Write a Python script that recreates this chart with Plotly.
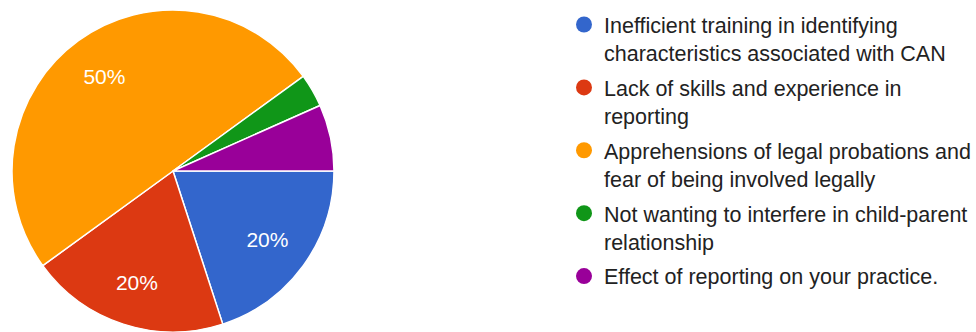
import plotly.graph_objects as go

categories = [
    "Inefficient training in identifying<br>characteristics associated with CAN",
    "Lack of skills and experience in<br>reporting",
    "Apprehensions of legal probations and<br>fear of being involved legally",
    "Not wanting to interfere in child-parent<br>relationship",
    "Effect of reporting on your practice.",
]
counts = [6, 6, 15, 1, 2]
slice_labels = ["20%", "20%", "50%", "", ""]
colors = ["#3366cc", "#dc3912", "#ff9900", "#109618", "#990099"]

W, H = 976, 332
dom = dict(x=[12 / W, 334 / W], y=[0, 322 / H])
fig = go.Figure()
# filled pie
fig.add_trace(go.Pie(
    values=counts,
    labels=categories,
    textinfo="none",
    marker=dict(colors=colors, line=dict(color="white", width=1.5)),
    sort=False,
    direction="clockwise",
    rotation=90,
    showlegend=False,
    hoverinfo="label+percent",
    domain=dom,
))
# transparent overlay ring carrying the percentage labels further out
fig.add_trace(go.Pie(
    values=counts,
    labels=categories,
    text=slice_labels,
    textinfo="text",
    textposition="inside",
    insidetextorientation="horizontal",
    textfont=dict(color="white", size=21, family="Arial"),
    marker=dict(colors=["rgba(0,0,0,0)"] * len(counts), line=dict(width=0)),
    hole=0.45,
    sort=False,
    direction="clockwise",
    rotation=90,
    showlegend=False,
    hoverinfo="skip",
    domain=dom,
))

for i, (name, col) in enumerate(zip(categories, colors)):
    fig.add_trace(go.Scatter(
        x=[None], y=[None], mode="markers", name=name,
        legendgroup=f"g{i}",
        marker=dict(color=col, size=20, symbol="circle"),
    ))

fig.update_layout(
    width=W, height=H,
    margin=dict(l=0, r=0, t=0, b=0),
    paper_bgcolor="white", plot_bgcolor="white",
    xaxis=dict(visible=False), yaxis=dict(visible=False),
    legend=dict(
        x=564 / W, y=1 - 4 / H, xanchor="left", yanchor="top",
        font=dict(family="Arial", size=21.5, color="#222222"),
        valign="top", itemsizing="trace",
        tracegroupgap=4,
        bgcolor="rgba(0,0,0,0)",
    ),
)

fig.write_html("out.html")
